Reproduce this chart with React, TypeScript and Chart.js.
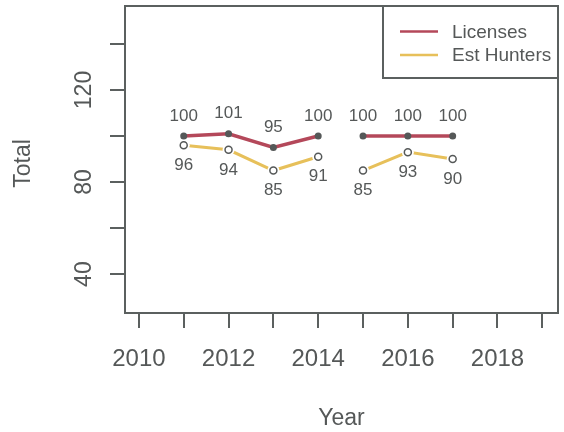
import React, { useEffect, useRef } from "react";
import { Chart, registerables } from "chart.js";

Chart.register(...registerables);

const years = [2011, 2012, 2013, 2014, 2015, 2016, 2017];
const licenses = [100, 101, 95, 100, 100, 100, 100];
const estHunters = [96, 94, 85, 91, 85, 93, 90];
const xTickYears = [2010, 2011, 2012, 2013, 2014, 2015, 2016, 2017, 2018, 2019];
const xLabelYears = [2010, 2012, 2014, 2016, 2018];
const yTicks = [40, 60, 80, 100, 120, 140];
const yLabels = [40, 80, 120];
const seriesNames = ["Licenses", "Est Hunters"];
const breakAfterIndex = 3; // gap between 2014 and 2015

const RED = "#b4485a";
const GOLD = "#e7c05a";
const INK = "#555858";
const AXIS = "#5b605f";
const FONT = '"Liberation Sans", Arial, Helvetica, sans-serif';

const rPlugin = {
  id: "rStyle",
  afterDatasetsDraw(chart: any) {
    const ctx = chart.ctx;
    const area = chart.chartArea;
    const xs = chart.scales.x;
    const ys = chart.scales.y;
    ctx.save();

    // data labels
    ctx.fillStyle = INK;
    ctx.font = `17px ${FONT}`;
    ctx.textAlign = "center";
    ctx.textBaseline = "middle";
    const licMeta = chart.getDatasetMeta(0);
    licMeta.data.forEach((pt: any, i: number) => {
      ctx.fillText(String(licenses[i]), pt.x, pt.y - 20);
    });
    const hunMeta = chart.getDatasetMeta(2);
    hunMeta.data.forEach((pt: any, i: number) => {
      ctx.fillText(String(estHunters[i]), pt.x, pt.y + 20);
    });

    // box
    ctx.strokeStyle = AXIS;
    ctx.lineWidth = 2;
    ctx.strokeRect(area.left, area.top, area.right - area.left, area.bottom - area.top);

    // x axis ticks
    ctx.beginPath();
    xTickYears.forEach((yr) => {
      const x = Math.round(xs.getPixelForValue(yr));
      ctx.moveTo(x, area.bottom);
      ctx.lineTo(x, area.bottom + 15);
    });
    ctx.stroke();
    ctx.font = `24px ${FONT}`;
    ctx.textAlign = "center";
    ctx.textBaseline = "alphabetic";
    xLabelYears.forEach((yr) => {
      ctx.fillText(String(yr), xs.getPixelForValue(yr), 366);
    });
    ctx.font = `23px ${FONT}`;
    ctx.fillText("Year", (area.left + area.right) / 2, 425);

    // y axis ticks
    ctx.beginPath();
    yTicks.forEach((v) => {
      const y = Math.round(ys.getPixelForValue(v));
      ctx.moveTo(area.left, y);
      ctx.lineTo(area.left - 15, y);
    });
    ctx.stroke();
    ctx.font = `23px ${FONT}`;
    yLabels.forEach((v) => {
      ctx.save();
      ctx.translate(91, ys.getPixelForValue(v));
      ctx.rotate(-Math.PI / 2);
      ctx.fillText(String(v), 0, 0);
      ctx.restore();
    });
    ctx.save();
    ctx.translate(30, (area.top + area.bottom) / 2 + 4);
    ctx.rotate(-Math.PI / 2);
    ctx.fillText("Total", 0, 0);
    ctx.restore();

    // legend
    const lx = 383;
    const ly = area.top;
    const lw = area.right - lx;
    const lh = 72;
    ctx.fillStyle = "#ffffff";
    ctx.fillRect(lx, ly, lw, lh);
    ctx.strokeStyle = AXIS;
    ctx.lineWidth = 2;
    ctx.strokeRect(lx, ly, lw, lh);
    const rows = [31.5, 55];
    const cols = [RED, GOLD];
    ctx.font = `19px ${FONT}`;
    ctx.textAlign = "left";
    ctx.textBaseline = "middle";
    rows.forEach((ry, i) => {
      ctx.strokeStyle = cols[i];
      ctx.lineWidth = 2.5;
      ctx.beginPath();
      ctx.moveTo(400, ry);
      ctx.lineTo(438, ry);
      ctx.stroke();
      ctx.fillStyle = INK;
      ctx.fillText(seriesNames[i], 452, ry + 1);
    });

    ctx.restore();
  },
};

export default function App() {
  const ref = useRef<HTMLCanvasElement | null>(null);
  useEffect(() => {
    document.body.style.margin = "0";
    const canvas = ref.current;
    if (!canvas) return;
    const licData = years.map((x, i) => ({ x, y: licenses[i] }));
    const hunData = years.map((x, i) => ({ x, y: estHunters[i] }));
    const chart = new Chart(canvas, {
      type: "line",
      data: {
        datasets: [
          {
            label: seriesNames[0],
            data: licData,
            borderColor: RED,
            borderWidth: 3.5,
            pointRadius: 3.5,
            pointBackgroundColor: INK,
            pointBorderColor: INK,
            pointBorderWidth: 0,
            order: 1,
            segment: {
              borderColor: (c: any) => (c.p0DataIndex === breakAfterIndex ? "rgba(0,0,0,0)" : RED),
            },
          },
          {
            label: seriesNames[1] + " line",
            data: hunData,
            borderColor: GOLD,
            borderWidth: 3,
            pointRadius: 6,
            pointBackgroundColor: "#ffffff",
            pointBorderWidth: 0,
            order: 3,
            segment: {
              borderColor: (c: any) => (c.p0DataIndex === breakAfterIndex ? "rgba(0,0,0,0)" : GOLD),
            },
          },
          {
            label: seriesNames[1],
            data: hunData,
            showLine: false,
            pointRadius: 3.5,
            pointBackgroundColor: "rgba(0,0,0,0)",
            pointBorderColor: INK,
            pointBorderWidth: 1.5,
            order: 2,
          },
        ],
      },
      options: {
        animation: false,
        responsive: false,
        devicePixelRatio: 1,
        layout: { padding: { left: 125, right: 1, top: 5, bottom: 119 } },
        scales: {
          x: { type: "linear", min: 2009.69, max: 2019.35, display: false },
          y: { type: "linear", min: 23.1, max: 156.5, display: false },
        },
        plugins: {
          legend: { display: false },
          tooltip: { enabled: false },
        },
      },
      plugins: [rPlugin],
    });
    return () => chart.destroy();
  }, []);
  return (
    <div style={{ position: "absolute", left: 0, top: 0, width: 564, height: 432, background: "#fff" }}>
      <canvas ref={ref} width={564} height={432} style={{ width: 564, height: 432 }} />
    </div>
  );
}
